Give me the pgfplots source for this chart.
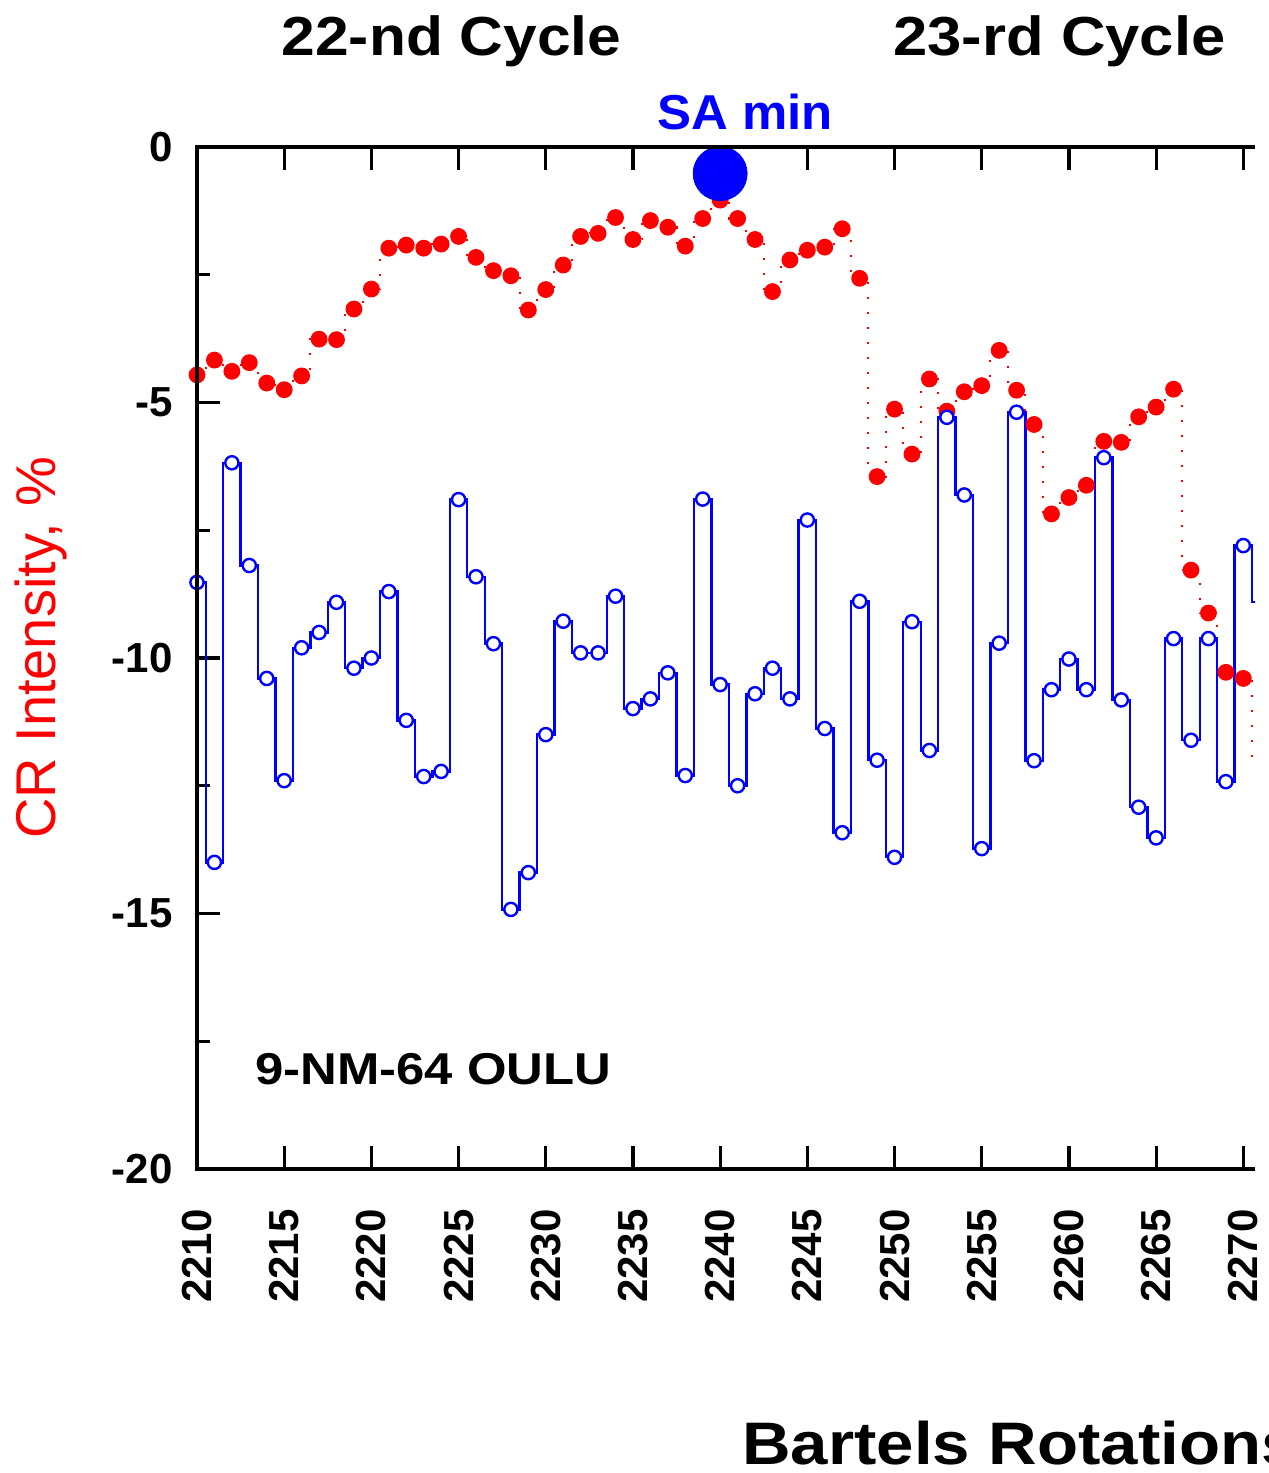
\documentclass[border=0pt]{standalone}
\usepackage{fontspec}
\setmainfont{Liberation Sans}
\usepackage{graphicx}
\usepackage{pgfplots}
\pgfplotsset{compat=1.18}

% red: dotted series with filled dots, blue: step line with open circles
\pgfplotstableread{
x y
2210 -4.46
2211 -4.17
2212 -4.39
2213 -4.22
2214 -4.62
2215 -4.75
2216 -4.48
2217 -3.76
2218 -3.77
2219 -3.17
2220 -2.78
2221 -1.98
2222 -1.92
2223 -1.98
2224 -1.90
2225 -1.75
2226 -2.16
2227 -2.42
2228 -2.52
2229 -3.19
2230 -2.79
2231 -2.31
2232 -1.75
2233 -1.69
2234 -1.38
2235 -1.81
2236 -1.44
2237 -1.57
2238 -1.94
2239 -1.40
2240 -1.04
2241 -1.40
2242 -1.81
2243 -2.83
2244 -2.21
2245 -2.02
2246 -1.96
2247 -1.60
2248 -2.57
2249 -6.45
2250 -5.13
2251 -6.01
2252 -4.54
2253 -5.17
2254 -4.79
2255 -4.67
2256 -3.98
2257 -4.76
2258 -5.43
2259 -7.18
2260 -6.86
2261 -6.62
2262 -5.76
2263 -5.78
2264 -5.28
2265 -5.09
2266 -4.74
2267 -8.28
2268 -9.12
2269 -10.28
2270 -10.40
2271 -12.00
}\redtab

\pgfplotstableread{
x y
2210 -8.52
2211 -14.00
2212 -6.18
2213 -8.19
2214 -10.40
2215 -12.40
2216 -9.80
2217 -9.50
2218 -8.91
2219 -10.20
2220 -10.00
2221 -8.70
2222 -11.22
2223 -12.32
2224 -12.22
2225 -6.90
2226 -8.41
2227 -9.72
2228 -14.92
2229 -14.20
2230 -11.50
2231 -9.28
2232 -9.90
2233 -9.90
2234 -8.79
2235 -10.99
2236 -10.80
2237 -10.29
2238 -12.30
2239 -6.89
2240 -10.52
2241 -12.50
2242 -10.70
2243 -10.20
2244 -10.80
2245 -7.30
2246 -11.38
2247 -13.42
2248 -8.89
2249 -12.00
2250 -13.90
2251 -9.29
2252 -11.81
2253 -5.29
2254 -6.81
2255 -13.73
2256 -9.71
2257 -5.19
2258 -12.01
2259 -10.62
2260 -10.02
2261 -10.62
2262 -6.08
2263 -10.82
2264 -12.92
2265 -13.52
2266 -9.62
2267 -11.61
2268 -9.62
2269 -12.42
2270 -7.80
2271 -8.90
}\bluetab

\begin{document}
\begin{tikzpicture}
\useasboundingbox (-98.5pt,-152pt) rectangle (536pt,584.5pt);
\clip (-98.5pt,-152pt) rectangle (536pt,584.5pt);
\begin{axis}[
    at={(0,0)}, anchor=south west,
    scale only axis,
    width=529pt, height=511pt,
    xmin=2210, xmax=2270.67,
    ymin=-20, ymax=0,
    xtick={2210,2215,...,2270},
    ytick={0,-5,-10,-15,-20},
    minor ytick={-2.5,-7.5,-12.5,-17.5},
    separate axis lines,
    axis line style={draw=none},
    tick align=inside,
    xtick pos=both,
    ytick pos=left,
    major tick length=11.5pt,
    minor tick length=6.5pt,
    major tick style={line width=1.6pt, black},
    minor tick style={line width=1.6pt, black},
    /pgf/number format/assume math mode=true,
    /pgf/number format/1000 sep={},
    tick label style={font=\bfseries\fontsize{21}{21}\selectfont},
    xticklabel style={rotate=90, anchor=east, inner sep=0pt},
    xticklabel shift=20pt,
    yticklabel style={inner sep=0pt},
    yticklabel shift=12pt,
    xlabel={\scalebox{1.12}[1]{Bartels Rotations}},
    every axis x label/.style={at={(rel axis cs:0.5151,-0.2896)}, anchor=base west,
        inner sep=0pt, font=\bfseries\fontsize{30}{30}\selectfont},
    ylabel={CR Intensity, \%},
    every axis y label/.style={at={(rel axis cs:-0.1342,0.5098)}, anchor=base,
        rotate=90, inner sep=0pt, red, font=\fontsize{28}{28}\selectfont},
]
\addplot[red, line width=1pt, dash pattern=on 1pt off 6.5pt, const plot mark mid,
    mark=*, mark size=3.7pt, mark options={solid, fill=red, draw=red}]
    table[x=x, y=y] {\redtab};
\addplot[blue, line width=1.2pt, const plot mark mid,
    mark=*, mark size=3.3pt, mark options={solid, fill=white, draw=blue}]
    table[x=x, y=y] {\bluetab};
\addplot[only marks, mark=*, mark size=13.5pt, blue, mark options={fill=blue, draw=blue}]
    coordinates {(2240,-0.52)};
\end{axis}
% frame: left, top and bottom only
\draw[line width=1.8pt, line join=miter] (529pt,511pt) -- (0pt,511pt) -- (0pt,0pt) -- (529pt,0pt);
\node[anchor=base, inner sep=0pt, font=\bfseries\fontsize{27.5}{27.5}\selectfont]
    at (127.25pt,556.5pt) {\scalebox{1.1}[1]{22-nd Cycle}};
\node[anchor=base, inner sep=0pt, font=\bfseries\fontsize{27.5}{27.5}\selectfont]
    at (431.25pt,556.5pt) {\scalebox{1.12}[1]{23-rd Cycle}};
\node[anchor=base, inner sep=0pt, blue, font=\bfseries\fontsize{24.5}{24.5}\selectfont]
    at (274pt,519.5pt) {\scalebox{1.04}[1]{SA min}};
\node[anchor=base west, inner sep=0pt, font=\bfseries\fontsize{22.3}{22.3}\selectfont]
    at (29pt,42pt) {\scalebox{1.14}[1]{9-NM-64 OULU}};
\end{tikzpicture}
\end{document}
